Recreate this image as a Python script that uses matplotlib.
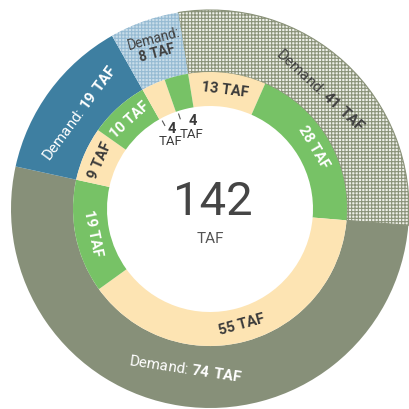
import numpy as np
import matplotlib.pyplot as plt

# outer ring: demand, inner ring: supply (TAF)
demand = [41, 74, 19, 8]
demand_labels = ['41 TAF', '74 TAF', '19 TAF', '8 TAF']
supply = [13, 28, 55, 19, 9, 10, 4, 4]
supply_labels = ['13 TAF', '28 TAF', '55 TAF', '19 TAF', '9 TAF', '10 TAF', '4', '4']
total = 142

plt.rcParams['font.family'] = ['Roboto', 'DejaVu Sans']
plt.rcParams['mathtext.fontset'] = 'custom'
plt.rcParams['mathtext.rm'] = 'Roboto'
plt.rcParams['mathtext.bf'] = 'Roboto:bold'
plt.rcParams['hatch.linewidth'] = 0.8

beige, green = '#fde4b3', '#77c266'
outer_colors = ['#eef0e9', '#879079', '#3e7fa1', '#c9dde9']
inner_colors = [beige, green] * 4

fig = plt.figure(figsize=(4.1, 4.09), dpi=100)
ax = fig.add_axes([0, 0, 1, 1])
cx, cy = 210, 200
r_out, r_mid, r_in = 199, 137, 103
start = 99.2

outer, _ = ax.pie(demand, radius=r_out, center=(cx, cy), startangle=start,
                  counterclock=False, colors=outer_colors,
                  wedgeprops=dict(width=r_out - r_mid, linewidth=0))
inner, _ = ax.pie(supply, radius=r_mid, center=(cx, cy), startangle=start,
                  counterclock=False, colors=inner_colors,
                  wedgeprops=dict(width=r_mid - r_in, linewidth=0))

# hatched demand segments
outer[0].set_hatch('+++++')
outer[0].set_edgecolor('#8a9279')
outer[0].set_linewidth(0.8)
outer[3].set_hatch('+++++')
outer[3].set_edgecolor('#96bbd3')


def mid_angles(vals):
    b = start - 360 * np.cumsum([0] + list(vals)) / total
    return (b[:-1] + b[1:]) / 2


def put(r, ang, s, rot=None, **kw):
    a = np.radians(ang)
    if rot is None:
        rot = (ang % 180) - 90
    ax.text(cx + r * np.cos(a), cy + r * np.sin(a), s, rotation=rot,
            rotation_mode='anchor', ha='center', va='center', **kw)


# demand labels
dmid = mid_angles(demand)
dcol = ['#404040', 'white', 'white', '#404040']
for i in range(3):
    num = demand_labels[i].replace(' ', r'\ ')
    put(162, dmid[i], 'Demand: $\\mathbf{' + num + '}$', fontsize=10.8, color=dcol[i])
put(172, dmid[3] - 1.0, 'Demand:\n$\\mathbf{8\\ TAF}$', rot=15, fontsize=9.8,
    color=dcol[3], linespacing=0.95)

# supply labels
smid = mid_angles(supply)
for i in range(6):
    col = '#3a3a3a' if i % 2 == 0 else 'white'
    put(120, smid[i], supply_labels[i], fontsize=10.5, fontweight='bold', color=col)

# small segments labelled inside the hole
for i, off in [(6, 3.5), (7, -1.7)]:
    a = np.radians(smid[i] + off)
    x, y = cx + 84 * np.cos(a), cy + 84 * np.sin(a)
    ax.text(x + 1, y + 6, supply_labels[i], ha='center', va='center',
            fontsize=10.5, fontweight='bold', color='#3a3a3a')
    ax.text(x, y - 7, 'TAF', ha='center', va='center', fontsize=9.5, color='#3a3a3a')
    t = np.radians(smid[i] + 4)
    ax.plot([cx + 95 * np.cos(t), cx + 100 * np.cos(t)],
            [cy + 95 * np.sin(t), cy + 100 * np.sin(t)], color='#555555', lw=0.8)

# centre total
ax.text(cx + 3, cy + 7, str(total), ha='center', va='center', fontsize=34,
        color='#454545')
ax.text(cx, cy - 30, 'TAF', ha='center', va='center', fontsize=11, color='#555555')

ax.set_xlim(0, 410)
ax.set_ylim(0, 409)
ax.set_aspect('equal')
ax.axis('off')

fig.savefig('out.png', dpi=100)
